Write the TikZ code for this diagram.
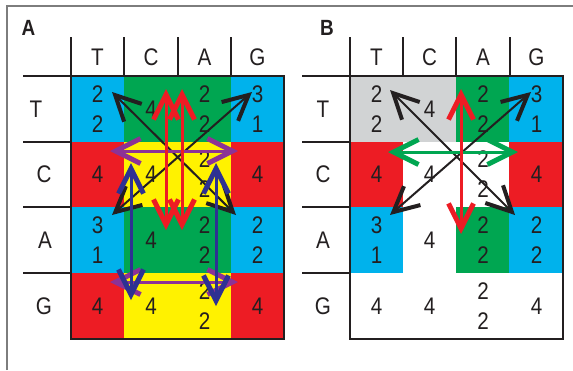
\documentclass[tikz,border=0pt]{standalone}
\usepackage{fontspec}
\setmainfont{Liberation Sans}[FakeStretch=0.86]
\usetikzlibrary{arrows.meta}
\definecolor{cyanC}{RGB}{0,178,236}
\definecolor{greenC}{RGB}{0,166,81}
\definecolor{redC}{RGB}{237,28,36}
\definecolor{yellowC}{RGB}{255,242,0}
\definecolor{greyC}{RGB}{209,211,212}
\definecolor{purpleC}{RGB}{140,50,150}
\definecolor{blueC}{RGB}{46,49,146}
\definecolor{inkC}{RGB}{35,31,32}
\definecolor{frameC}{RGB}{125,125,125}
\begin{document}
\begin{tikzpicture}[x=1pt,y=-1pt,
  num/.style={inner sep=0pt, font=\fontsize{24}{24}\selectfont, text=inkC},
  lab/.style={inner sep=0pt, font=\fontsize{24}{24}\selectfont, text=inkC},
  panel/.style={inner sep=0pt, font=\fontsize{22}{22}\selectfont\bfseries, text=inkC},
  gridbox/.style={line width=1.6pt, draw=inkC},
  rule/.style={line width=1.4pt, draw=inkC},
  dbl/.style={{Straight Barb[length=25pt,width=25pt,line width=2pt 1]}-{Straight Barb[length=25pt,width=25pt,line width=2pt 1]}},
  blk/.style={dbl, draw=inkC, line width=2pt},
  redA/.style={dbl, draw=redC, line width=3pt},
  purA/.style={dbl, draw=purpleC, line width=3pt},
  bluA/.style={dbl, draw=blueC, line width=3pt},
  grnA/.style={dbl, draw=greenC, line width=3pt}
]
\useasboundingbox (0,0) rectangle (573,370);
% frame
\draw[frameC, line width=1.2pt] (7,370) -- (7,6) -- (573,6);

% ================= Panel A =================
\fill[cyanC] (71,76) rectangle (124,142);
\fill[greenC] (124,76) rectangle (231,142);
\fill[cyanC] (231,76) rectangle (284,142);
\fill[redC] (71,142) rectangle (124,207);
\fill[yellowC] (124,142) rectangle (231,207);
\fill[redC] (231,142) rectangle (284,207);
\fill[cyanC] (71,207) rectangle (124,273);
\fill[greenC] (124,207) rectangle (231,273);
\fill[cyanC] (231,207) rectangle (284,273);
\fill[redC] (71,273) rectangle (124,339);
\fill[yellowC] (124,273) rectangle (231,339);
\fill[redC] (231,273) rectangle (284,339);
\foreach \x in {71,124,178,231} \draw[rule] (\x,37) -- (\x,76);
\foreach \y in {142,207,273} \draw[rule] (23,\y) -- (71,\y);
\draw[rule] (23,76) -- (71,76);
\draw[gridbox] (71,76) rectangle (284,339);
\node[panel] (pA) at (28.5,27.5) {A};
\node[lab] (aHT) at (97.5,57.5) {T};
\node[lab] (aHC) at (151,57.5) {C};
\node[lab] (aHA) at (204.5,57.5) {A};
\node[lab] (aHG) at (257.5,57.5) {G};
\node[lab] (aRT) at (36,109) {T};
\node[lab] (aRC) at (44,174.5) {C};
\node[lab] (aRA) at (45,240) {A};
\node[lab] (aRG) at (44,306) {G};
\node[num] (a11) at (97.5,94) {2};  \node[num] (a11b) at (97.5,124) {2};
\node[num] (a12) at (151,109) {4};
\node[num] (a13) at (204.5,94) {2}; \node[num] (a13b) at (204.5,124) {2};
\node[num] (a14) at (257.5,94) {3}; \node[num] (a14b) at (257.5,124) {1};
\node[num] (a21) at (97.5,174.5) {4};
\node[num] (a22) at (151,174.5) {4};
\node[num] (a23) at (204.5,159.5) {2}; \node[num] (a23b) at (204.5,189.5) {2};
\node[num] (a24) at (257.5,174.5) {4};
\node[num] (a31) at (97.5,225) {3};  \node[num] (a31b) at (97.5,255) {1};
\node[num] (a32) at (151,240) {4};
\node[num] (a33) at (204.5,225) {2}; \node[num] (a33b) at (204.5,255) {2};
\node[num] (a34) at (257.5,225) {2}; \node[num] (a34b) at (257.5,255) {2};
\node[num] (a41) at (97.5,306) {4};
\node[num] (a42) at (151,306) {4};
\node[num] (a43) at (204.5,291) {2}; \node[num] (a43b) at (204.5,321) {2};
\node[num] (a44) at (257.5,306) {4};
\coordinate (ak1) at (112,92);  \coordinate (ak2) at (236,215);
\coordinate (ak3) at (252,92);  \coordinate (ak4) at (112,215);
\coordinate (ar1) at (166,89);  \coordinate (ar2) at (166,230);
\coordinate (ar3) at (182,89);  \coordinate (ar4) at (182,230);
\coordinate (ap1) at (110,151); \coordinate (ap2) at (238,151);
\coordinate (ap3) at (110,282); \coordinate (ap4) at (238,282);
\coordinate (ab1) at (131,163); \coordinate (ab2) at (131,300);
\coordinate (ab3) at (216,163); \coordinate (ab4) at (216,306);
\draw[blk] (ak1) -- (ak2);
\draw[blk] (ak3) -- (ak4);
\draw[purA] (ap1) -- (ap2);
\draw[purA] (ap3) -- (ap4);
\draw[bluA] (ab1) -- (ab2);
\draw[bluA] (ab3) -- (ab4);
\draw[redA] (ar1) -- (ar2);
\draw[redA] (ar3) -- (ar4);

% ================= Panel B =================
\fill[greyC] (350,76) rectangle (456,142);
\fill[greenC] (456,76) rectangle (509,142);
\fill[cyanC] (509,76) rectangle (563,142);
\fill[redC] (350,142) rectangle (403,207);
\fill[redC] (509,142) rectangle (563,207);
\fill[cyanC] (350,207) rectangle (403,273);
\fill[greenC] (456,207) rectangle (509,273);
\fill[cyanC] (509,207) rectangle (563,273);
\foreach \x in {350,403,456,510} \draw[rule] (\x,37) -- (\x,76);
\foreach \y in {142,207,273} \draw[rule] (302,\y) -- (350,\y);
\draw[rule] (302,76) -- (350,76);
\draw[gridbox] (350,76) rectangle (563,339);
\node[panel] (pB) at (327,28) {B};
\node[lab] (bHT) at (376.5,57.5) {T};
\node[lab] (bHC) at (429.5,57.5) {C};
\node[lab] (bHA) at (483,57.5) {A};
\node[lab] (bHG) at (536.5,57.5) {G};
\node[lab] (bRT) at (323,109) {T};
\node[lab] (bRC) at (323,174.5) {C};
\node[lab] (bRA) at (323,240) {A};
\node[lab] (bRG) at (323,306) {G};
\node[num] (b11) at (376.5,94) {2};  \node[num] (b11b) at (376.5,124) {2};
\node[num] (b12) at (429.5,109) {4};
\node[num] (b13) at (483,94) {2}; \node[num] (b13b) at (483,124) {2};
\node[num] (b14) at (536.5,94) {3}; \node[num] (b14b) at (536.5,124) {1};
\node[num] (b21) at (376.5,174.5) {4};
\node[num] (b22) at (429.5,174.5) {4};
\node[num] (b23) at (483,159.5) {2}; \node[num] (b23b) at (483,189.5) {2};
\node[num] (b24) at (536.5,174.5) {4};
\node[num] (b31) at (376.5,225) {3};  \node[num] (b31b) at (376.5,255) {1};
\node[num] (b32) at (429.5,240) {4};
\node[num] (b33) at (483,225) {2}; \node[num] (b33b) at (483,255) {2};
\node[num] (b34) at (536.5,225) {2}; \node[num] (b34b) at (536.5,255) {2};
\node[num] (b41) at (376.5,306) {4};
\node[num] (b42) at (429.5,306) {4};
\node[num] (b43) at (483,291) {2}; \node[num] (b43b) at (483,321) {2};
\node[num] (b44) at (536.5,306) {4};
\coordinate (bk1) at (390,90);  \coordinate (bk2) at (515,215);
\coordinate (bk3) at (531,92);  \coordinate (bk4) at (390,215);
\coordinate (br1) at (461,89);  \coordinate (br2) at (461,234);
\coordinate (bg1) at (388,152); \coordinate (bg2) at (518,152);
\draw[blk] (bk1) -- (bk2);
\draw[blk] (bk3) -- (bk4);
\draw[grnA] (bg1) -- (bg2);
\draw[redA] (br1) -- (br2);
\end{tikzpicture}
\end{document}
